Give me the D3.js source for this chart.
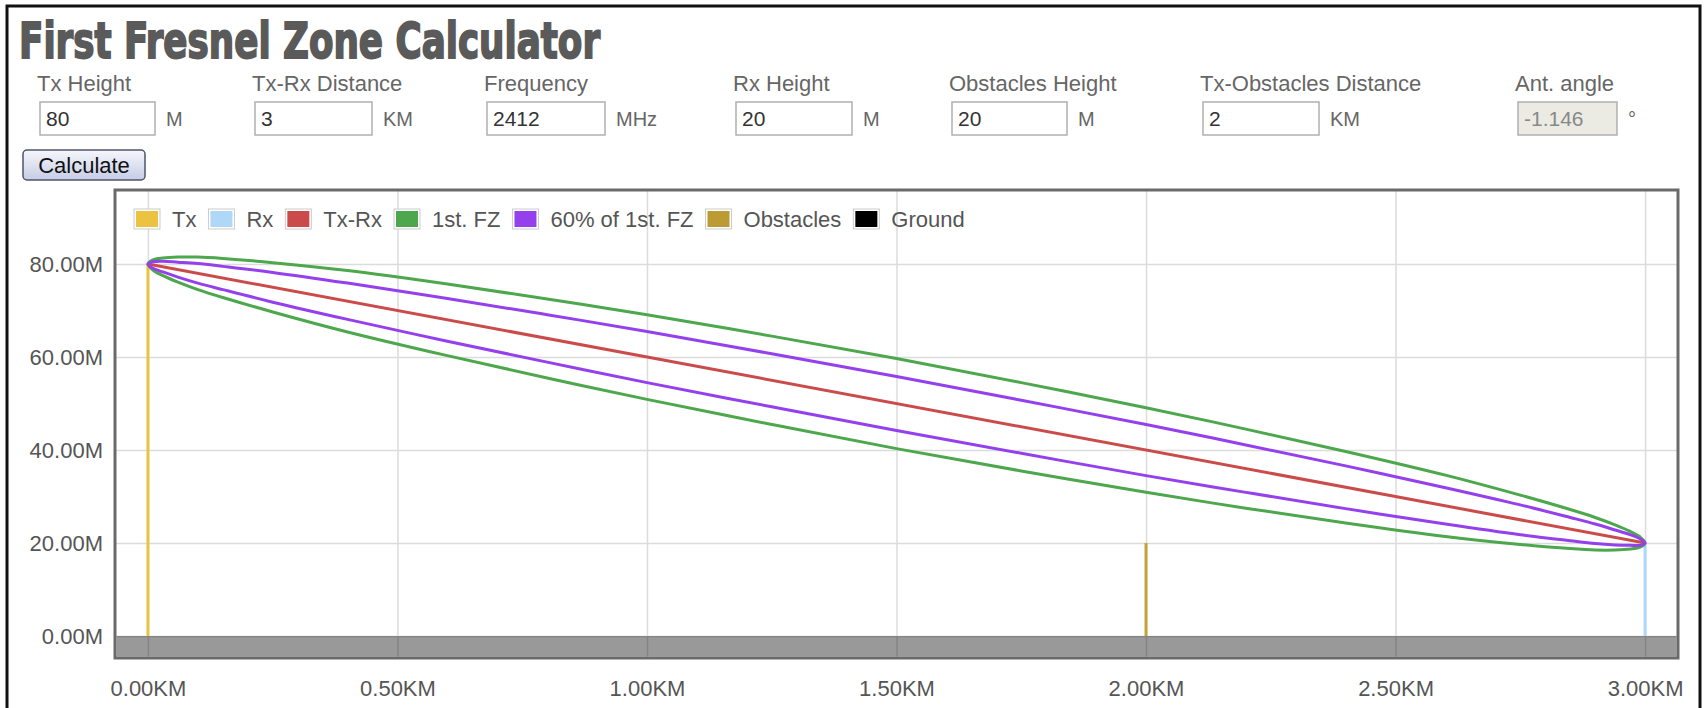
<!DOCTYPE html>
<html>
<head>
<meta charset="utf-8">
<script src="https://cdn.jsdelivr.net/npm/d3@7"></script>
<style>
  body { margin: 0; background: #fff; }
  text { font-family: "Liberation Sans", Arial, sans-serif; }
</style>
</head>
<body>
<div id="chart"></div>
<script>
// form fields
var fieldLabels = ["Tx Height", "Tx-Rx Distance", "Frequency", "Rx Height", "Obstacles Height", "Tx-Obstacles Distance", "Ant. angle"];
var fieldValues = ["80", "3", "2412", "20", "20", "2", "-1.146"];
var fieldUnits = ["M", "KM", "MHz", "M", "M", "KM", "°"];

// axes
var xTicks = [0, 0.5, 1, 1.5, 2, 2.5, 3];
var yTicks = [0, 20, 40, 60, 80];

// legend
var seriesNames = ["Tx", "Rx", "Tx-Rx", "1st. FZ", "60% of 1st. FZ", "Obstacles", "Ground"];

// series (km, metres)
var txLine = [[0, 0], [0, 80]];
var rxLine = [[3, 0], [3, 20]];
var losLine = [[0, 80], [3, 20]];
var obstacleLine = [[2, 0], [2, 20]];
var groundLevel = 0;

var fzX      = [0, 0.01, 0.03, 0.06, 0.1, 0.15, 0.25, 0.4, 0.6, 0.8, 1.0, 1.25, 1.5, 1.75, 2.0, 2.2, 2.4, 2.6, 2.75, 2.85, 2.9, 2.94, 2.97, 2.99, 3.0];
var fzUpper  = [80, 80.9, 81.3, 81.5, 81.5, 81.2, 80.3, 78.6, 75.7, 72.5, 69.1, 64.5, 59.7, 54.5, 49.1, 44.5, 39.7, 34.6, 30.3, 27.2, 25.5, 23.9, 22.5, 21.3, 20];
var fzLower  = [80, 78.7, 77.5, 76.1, 74.5, 72.8, 69.7, 65.4, 60.3, 55.5, 50.9, 45.5, 40.3, 35.5, 30.9, 27.5, 24.3, 21.4, 19.7, 18.8, 18.5, 18.5, 18.7, 19.1, 20];
var fz60Upper = [80, 80.5, 80.6, 80.4, 80.1, 79.5, 78.2, 75.9, 72.6, 69.1, 65.5, 60.7, 55.8, 50.7, 45.5, 41.1, 36.6, 31.9, 28.2, 25.5, 24.1, 22.8, 21.8, 20.9, 20];
var fz60Lower = [80, 79.1, 78.3, 77.2, 75.9, 74.5, 71.8, 68.1, 63.4, 58.9, 54.5, 49.3, 44.2, 39.3, 34.5, 30.9, 27.4, 24.1, 21.8, 20.5, 19.9, 19.6, 19.5, 19.5, 20];

var colors = {
  tx: "#edc240", rx: "#afd8f8", los: "#cb4b4b", fz: "#4da74d",
  fz60: "#9440ed", obstacle: "#c4a23a", ground: "#000"
};
var legendColors = [colors.tx, colors.rx, colors.los, colors.fz, colors.fz60, "#bd9b33", colors.ground];

var W = 1705, H = 708;
var svg = d3.select("#chart").append("svg")
  .attr("width", W).attr("height", H);

// page border
svg.append("path")
  .attr("d", "M7," + H + "V6H1700V" + H)
  .attr("fill", "none").attr("stroke", "#111").attr("stroke-width", 3);

// title
svg.append("text")
  .attr("x", 19).attr("y", 58)
  .attr("textLength", 581).attr("lengthAdjust", "spacingAndGlyphs")
  .style("font-family", "'DejaVu Sans Condensed', 'DejaVu Sans', sans-serif")
  .style("font-weight", "bold").style("font-size", "50px")
  .attr("fill", "#5a5a5a").attr("stroke", "#5a5a5a").attr("stroke-width", 1.8)
  .text("First Fresnel Zone Calculator");

// form row
var fieldX = [40, 255, 487, 736, 952, 1203, 1518];
var fieldW = [115, 117, 118, 116, 115, 116, 99];
var form = svg.append("g");
fieldLabels.forEach(function (lab, i) {
  var disabled = i === fieldLabels.length - 1;
  form.append("text")
    .attr("x", fieldX[i] - 3).attr("y", 91)
    .style("font-size", "22px").attr("fill", "#666")
    .text(lab);
  form.append("rect")
    .attr("x", fieldX[i]).attr("y", 102)
    .attr("width", fieldW[i]).attr("height", 33)
    .attr("fill", disabled ? "#ebebe4" : "#fff")
    .attr("stroke", "#b0b0b0").attr("stroke-width", 1.5);
  form.append("text")
    .attr("x", fieldX[i] + 6).attr("y", 126)
    .style("font-size", "21px").attr("fill", disabled ? "#888" : "#333")
    .text(fieldValues[i]);
  form.append("text")
    .attr("x", fieldX[i] + fieldW[i] + 11).attr("y", 126)
    .style("font-size", "20px").attr("fill", "#666")
    .text(fieldUnits[i]);
});

// button
var grad = svg.append("defs").append("linearGradient")
  .attr("id", "btn").attr("x1", 0).attr("y1", 0).attr("x2", 0).attr("y2", 1);
grad.append("stop").attr("offset", "0%").attr("stop-color", "#f6f7fc");
grad.append("stop").attr("offset", "100%").attr("stop-color", "#c6cce6");
svg.append("rect")
  .attr("x", 23).attr("y", 150).attr("width", 122).attr("height", 30)
  .attr("rx", 4).attr("fill", "url(#btn)")
  .attr("stroke", "#50546a").attr("stroke-width", 1.5);
svg.append("text")
  .attr("x", 84).attr("y", 173).attr("text-anchor", "middle")
  .style("font-size", "22px").attr("fill", "#111")
  .text("Calculate");

// plot
var frame = { left: 115, top: 190, right: 1678, bottom: 658 };
var x = d3.scaleLinear().domain([-0.063, 3.063]).range([frame.left + 1.5, frame.right - 1.5]);
var y = d3.scaleLinear().domain([-4.4, 95.6]).range([frame.bottom - 1.5, frame.top + 1.5]);

var plot = svg.append("g");

// grid
plot.append("g")
  .attr("transform", "translate(0," + frame.bottom + ")")
  .call(d3.axisBottom(x).tickValues(xTicks).tickSize(-(frame.bottom - frame.top)).tickFormat(""))
  .call(function (g) {
    g.select(".domain").remove();
    g.selectAll("line").attr("stroke", "#dcdcdc").attr("stroke-width", 1.5);
  });
plot.append("g")
  .attr("transform", "translate(" + frame.left + ",0)")
  .call(d3.axisLeft(y).tickValues(yTicks).tickSize(-(frame.right - frame.left)).tickFormat(""))
  .call(function (g) {
    g.select(".domain").remove();
    g.selectAll("line").attr("stroke", "#dcdcdc").attr("stroke-width", 1.5);
  });

var line = d3.line().x(function (d) { return x(d[0]); }).y(function (d) { return y(d[1]); });

function vline(data, color) {
  plot.append("path").datum(data)
    .attr("d", line).attr("fill", "none")
    .attr("stroke", color).attr("stroke-width", 3);
}
vline(txLine, colors.tx);
vline(rxLine, colors.rx);
vline(losLine, colors.los);

function zone(upper, lower, color) {
  var pts = fzX.map(function (d, i) { return [d, upper[i]]; });
  for (var i = fzX.length - 2; i > 0; i--) pts.push([fzX[i], lower[i]]);
  var closed = d3.line()
    .x(function (d) { return x(d[0]); }).y(function (d) { return y(d[1]); })
    .curve(d3.curveCatmullRomClosed.alpha(0.5));
  plot.append("path").datum(pts)
    .attr("d", closed).attr("fill", "none")
    .attr("stroke", color).attr("stroke-width", 3);
}
zone(fzUpper, fzLower, colors.fz);
zone(fz60Upper, fz60Lower, colors.fz60);

vline(obstacleLine, colors.obstacle);

// ground
var ground = d3.area()
  .x(function (d) { return x(d); })
  .y0(y(y.domain()[0]))
  .y1(y(groundLevel));
plot.append("path").datum(x.domain())
  .attr("d", ground).attr("fill", colors.ground).attr("fill-opacity", 0.4);

// frame
plot.append("rect")
  .attr("x", frame.left).attr("y", frame.top)
  .attr("width", frame.right - frame.left).attr("height", frame.bottom - frame.top)
  .attr("fill", "none").attr("stroke", "#6a6a6a").attr("stroke-width", 3);

// tick labels
svg.append("g")
  .attr("transform", "translate(0," + frame.bottom + ")")
  .call(d3.axisBottom(x).tickValues(xTicks).tickSize(0).tickPadding(22)
    .tickFormat(function (d) { return d3.format(".2f")(d) + "KM"; }))
  .call(function (g) {
    g.select(".domain").remove();
    g.selectAll("text").style("font-size", "22px").attr("fill", "#555")
      .style("font-family", "'Liberation Sans', Arial, sans-serif");
  });
svg.append("g")
  .attr("transform", "translate(103,0)")
  .call(d3.axisLeft(y).tickValues(yTicks).tickSize(0).tickPadding(0)
    .tickFormat(function (d) { return d3.format(".2f")(d) + "M"; }))
  .call(function (g) {
    g.select(".domain").remove();
    g.selectAll("text").style("font-size", "22px").attr("fill", "#555")
      .style("font-family", "'Liberation Sans', Arial, sans-serif");
  });

// legend
var legend = svg.append("g").attr("transform", "translate(134,219)");
var lx = 0;
seriesNames.forEach(function (name, i) {
  var item = legend.append("g").attr("transform", "translate(" + lx + ",0)");
  item.append("rect")
    .attr("x", 0).attr("y", -10).attr("width", 26).attr("height", 20)
    .attr("fill", "#fff").attr("stroke", "#ccc").attr("stroke-width", 1);
  item.append("rect")
    .attr("x", 2).attr("y", -8).attr("width", 22).attr("height", 16)
    .attr("fill", legendColors[i]);
  var t = item.append("text")
    .attr("x", 38).attr("y", 8)
    .style("font-size", "22px").attr("fill", "#555")
    .text(name);
  lx += 38 + t.node().getComputedTextLength() + 12;
});
</script>
</body>
</html>
